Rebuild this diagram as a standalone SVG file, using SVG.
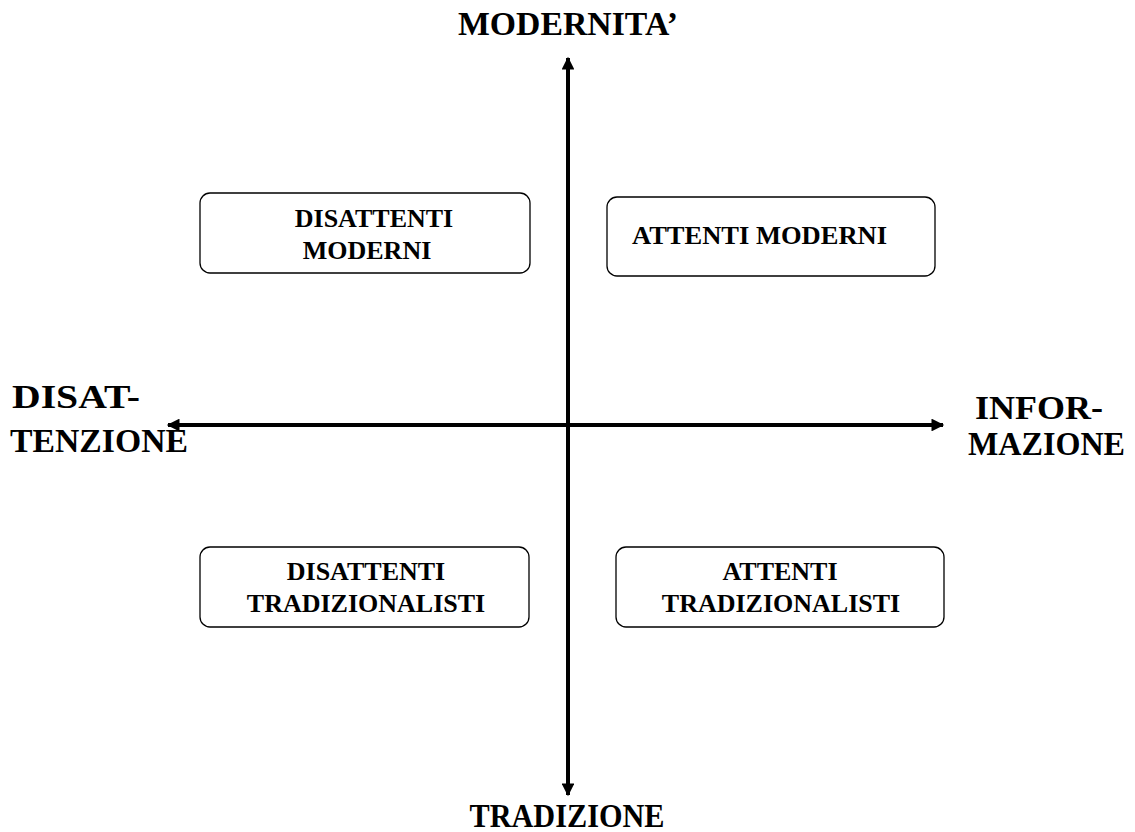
<svg xmlns="http://www.w3.org/2000/svg" width="1135" height="832" viewBox="0 0 1135 832">
<style>
.ax{font-family:"Liberation Serif","Times New Roman",serif;font-weight:bold;font-size:34px;fill:#000}
.bx{font-family:"Liberation Serif","Times New Roman",serif;font-weight:bold;font-size:26px;fill:#000}
.box{fill:#fff;stroke:#000;stroke-width:1.3}
.axis{stroke:#000;stroke-width:4;fill:none}
</style>
<defs>
<marker id="ah" viewBox="0 0 10 10" refX="9" refY="5" markerWidth="3.5" markerHeight="3.2" orient="auto" markerUnits="strokeWidth">
<path d="M0,0 L10,5 L0,10 Z" fill="#000"/>
</marker>
</defs>
<rect width="1135" height="832" fill="#fff"/>
<g id="connectors">
<line class="axis" x1="568" y1="425" x2="568" y2="58" marker-end="url(#ah)"/>
<line class="axis" x1="568" y1="425" x2="568" y2="795" marker-end="url(#ah)"/>
<line class="axis" x1="568" y1="425" x2="168" y2="425" marker-end="url(#ah)"/>
<line class="axis" x1="568" y1="425" x2="943" y2="425" marker-end="url(#ah)"/>
</g>
<g id="label-modernita"><text class="ax" x="568" y="35" text-anchor="middle" textLength="220" lengthAdjust="spacingAndGlyphs">MODERNITA’</text></g>
<g id="label-tradizione"><text class="ax" x="567" y="827" text-anchor="middle" textLength="195" lengthAdjust="spacingAndGlyphs">TRADIZIONE</text></g>
<g id="label-disattenzione"><text class="ax" x="12" y="408" textLength="128" lengthAdjust="spacingAndGlyphs">DISAT-</text><text class="ax" x="10" y="452" textLength="178" lengthAdjust="spacingAndGlyphs">TENZIONE</text></g>
<g id="label-informazione"><text class="ax" x="975" y="419" textLength="128" lengthAdjust="spacingAndGlyphs">INFOR-</text><text class="ax" x="968" y="455" textLength="157" lengthAdjust="spacingAndGlyphs">MAZIONE</text></g>
<g id="disattenti-moderni">
<rect class="box" x="200" y="193" width="330" height="80" rx="10"/>
<text class="bx" x="374" y="227" text-anchor="middle">DISATTENTI</text>
<text class="bx" x="367" y="259" text-anchor="middle">MODERNI</text>
</g>
<g id="attenti-moderni">
<rect class="box" x="607" y="197" width="328" height="79" rx="10"/>
<text class="bx" x="632" y="244" textLength="255" lengthAdjust="spacingAndGlyphs">ATTENTI MODERNI</text>
</g>
<g id="disattenti-tradizionalisti">
<rect class="box" x="200" y="547" width="329" height="80" rx="10"/>
<text class="bx" x="366" y="580" text-anchor="middle">DISATTENTI</text>
<text class="bx" x="366" y="612" text-anchor="middle">TRADIZIONALISTI</text>
</g>
<g id="attenti-tradizionalisti">
<rect class="box" x="616" y="547" width="328" height="80" rx="10"/>
<text class="bx" x="780" y="580" text-anchor="middle">ATTENTI</text>
<text class="bx" x="781" y="612" text-anchor="middle">TRADIZIONALISTI</text>
</g>
</svg>
